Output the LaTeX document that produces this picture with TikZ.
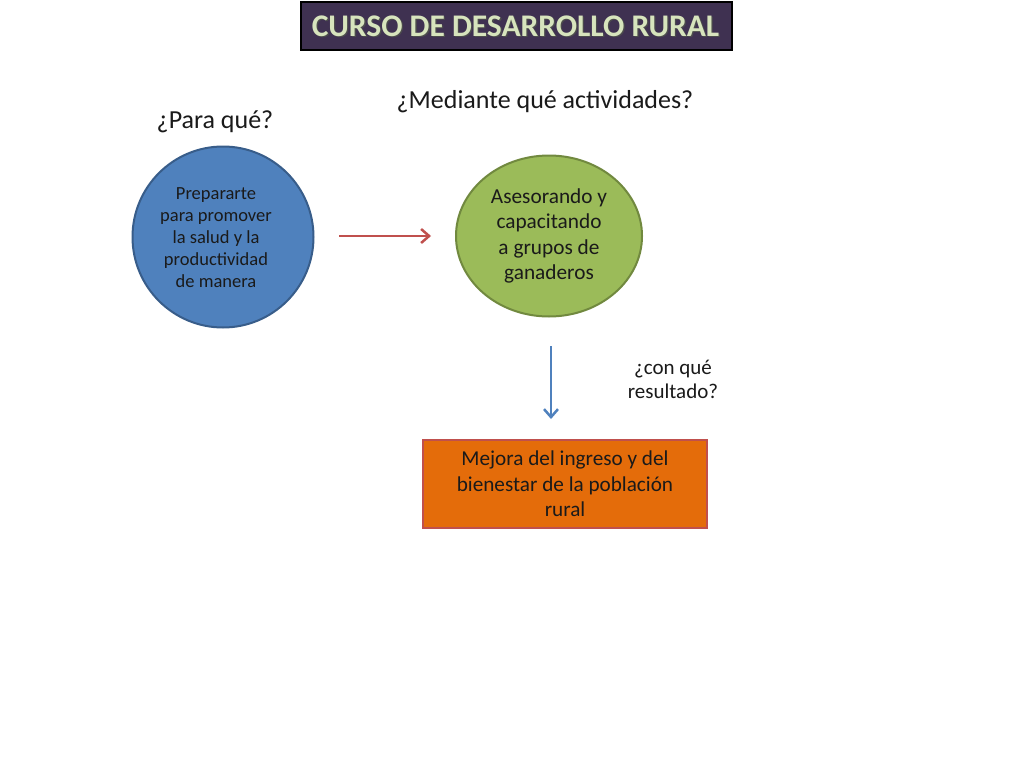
\documentclass[tikz,border=0pt]{standalone}
\usepackage{fontspec}
\setmainfont{Carlito}
\usetikzlibrary{arrows.meta,shapes.geometric}
\definecolor{titlefill}{HTML}{3F3151}
\definecolor{titletext}{HTML}{D7E4BD}
\definecolor{bluefill}{HTML}{4F81BD}
\definecolor{blueline}{HTML}{385D8A}
\definecolor{greenfill}{HTML}{9BBB59}
\definecolor{greenline}{HTML}{71893F}
\definecolor{orangefill}{HTML}{E46C0A}
\definecolor{redline}{HTML}{C0504D}
\definecolor{darktext}{HTML}{1A1A1A}
\tikzset{
  question/.style={font=\fontsize{26}{30}\selectfont, text=darktext, align=center},
  conn/.style={line width=2.5pt, -{Straight Barb[length=8pt,width=14pt,line width=2.5pt]}},
}
\begin{document}
\begin{tikzpicture}[x=1pt,y=-1pt]
\useasboundingbox[fill=white] (0,0) rectangle (1024,768);
% title
\node (titlebox) [draw=black, line width=2pt, fill=titlefill, minimum width=431pt, minimum height=48pt, inner sep=0pt] at (516.5,26) {};
\node (titleshadow) [text=black!70, font=\fontsize{31.5}{36}\selectfont\bfseries] at (516.8,27.3) {CURSO DE DESARROLLO RURAL};
\node (title) [text=titletext, font=\fontsize{31.5}{36}\selectfont\bfseries] at (515.5,26) {CURSO DE DESARROLLO RURAL};
% questions
\node (q1) [question] at (215,122) {¿Para qué?};
\node (q2) [question] at (545,102) {¿Mediante qué actividades?};
\node (q3) [font=\fontsize{21}{24}\selectfont, text=darktext, align=center] at (673,379) {¿con qué\\resultado?};
% blue circle
\node (blue) [circle, draw=blueline, line width=2pt, fill=bluefill, minimum size=181pt, inner sep=0pt] at (223,237) {};
\node (bluetext) [font=\fontsize{18.5}{22}\selectfont, text=darktext, align=center] at (216,238)
  {Prepararte\\para promover\\la salud y la\\productividad\\de manera};
% green ellipse
\node (green) [ellipse, draw=greenline, line width=2pt, fill=greenfill, minimum width=186pt, minimum height=161pt, inner sep=0pt,
  font=\fontsize{21.3}{25.3}\selectfont, text=darktext, align=center] at (549,236)
  {Asesorando y\\capacitando\\a grupos de\\ganaderos};
% orange box
\node (orange) [draw=redline, line width=2pt, fill=orangefill, minimum width=284pt, minimum height=88pt, inner sep=0pt,
  font=\fontsize{21.2}{25.5}\selectfont, text=darktext, align=center] at (565,484)
  {Mejora del ingreso y del\\bienestar de la población\\rural};
% connectors
\coordinate (a1s) at (339,236);
\coordinate (a1e) at (431,236);
\coordinate (a2s) at (551,346);
\coordinate (a2e) at (551,419);
\draw[conn, redline] (a1s) -- (a1e);
\draw[conn, bluefill] (a2s) -- (a2e);
\end{tikzpicture}
\end{document}
